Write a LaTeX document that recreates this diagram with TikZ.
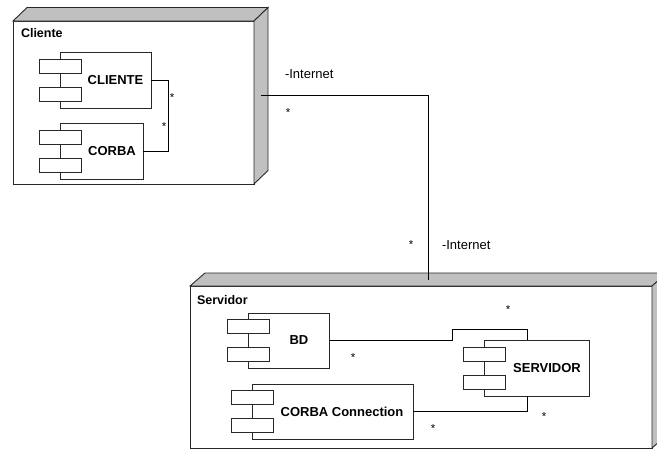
\documentclass[tikz,border=0pt]{standalone}
\usepackage{fontspec}
\setmainfont{Liberation Sans}
\usetikzlibrary{calc}
\definecolor{facegray}{RGB}{192,192,192}
\definecolor{edgegray}{RGB}{40,40,40}

\begin{document}
\begin{tikzpicture}[x=1pt,y=-1pt,
  every node/.style={inner sep=0pt, outer sep=0pt},
  frontface/.style={draw=edgegray, fill=white, line width=0.9pt},
  depthface/.style={draw=edgegray, fill=facegray, line width=0.9pt, line join=miter},
  compbody/.style={draw=edgegray, fill=white, line width=0.8pt},
  comptab/.style={draw=edgegray, fill=white, line width=0.8pt,
    minimum width=42pt, minimum height=14pt},
  compname/.style={font=\fontsize{13}{15}\selectfont\bfseries},
  nodename/.style={font=\fontsize{12.5}{15}\selectfont\bfseries, anchor=west},
  linkname/.style={font=\fontsize{13}{15}\selectfont, anchor=west},
  mult/.style={font=\fontsize{11.5}{12}\selectfont},
  wire/.style={draw=black, line width=0.9pt}]

\useasboundingbox (0,0) rectangle (657,450);
\clip (0,0) rectangle (657,450);

% ---------- deployment nodes (front faces) ----------
\node[frontface, minimum width=241pt, minimum height=163pt] (cliente) at (133.5,102.5) {};
\node[frontface, minimum width=462pt, minimum height=162pt] (servidor) at (421,367) {};

% 3D depth faces
\draw[depthface] (cliente.north west) -- ++(14,-13.5) -- ++(241,0) -- (cliente.north east) -- cycle;
\draw[depthface] (cliente.north east) -- ++(14,-13.5) -- ++(0,163) -- (cliente.south east) -- cycle;
\draw[depthface] (servidor.north west) -- ++(15,-13) -- ++(462,0) -- (servidor.north east) -- cycle;
\draw[depthface] (servidor.north east) -- ++(15,-13) -- ++(0,162) -- (servidor.south east) -- cycle;

\coordinate (cliside) at ($(cliente.east)+(7,-6.75)$);
\coordinate (srvtop) at ($(servidor.north)+(7.5,-6.5)$);

\node[nodename] (clientelbl) at ($(cliente.north west)+(8,12)$) {Cliente};
\node[nodename] (servidorlbl) at ($(servidor.north west)+(7,14)$) {Servidor};

% ---------- components ----------
\node[compbody, minimum width=91pt, minimum height=56pt] (cli) at (105.5,80) {};
\node[compbody, minimum width=83pt, minimum height=56pt] (cor) at (101.5,151) {};
\node[compbody, minimum width=81pt, minimum height=55pt] (bd) at (288.5,340.5) {};
\node[compbody, minimum width=161pt, minimum height=55pt] (cc) at (332.5,411.5) {};
\node[compbody, minimum width=105pt, minimum height=56pt] (srv) at (536.5,368) {};

\foreach \c in {cli,cor,bd,cc,srv}{
  \node[comptab] (\c-tab1) at ($(\c.north west)!0.25!(\c.south west)$) {};
  \node[comptab] (\c-tab2) at ($(\c.north west)!0.75!(\c.south west)$) {};
}

\node[compname] (clitxt) at ($(cli.center)+(10,0)$) {CLIENTE};
\node[compname] (cortxt) at ($(cor.center)+(10.5,0)$) {CORBA};
\node[compname] (bdtxt) at ($(bd.center)+(10.5,0)$) {BD};
\node[compname] (cctxt) at ($(cc.center)+(9.5,0)$) {CORBA Connection};
\node[compname] (srvtxt) at ($(srv.center)+(10.5,0)$) {SERVIDOR};

% ---------- connectors ----------
\draw[wire] (cli.east) -- ++(17,0) |- (cor.east);
\draw[wire] (cliside) -| (srvtop);
\draw[wire] (bd.east) -- ++(123,0) -- ++(0,-11) -| ([xshift=-9.5pt]srv.north);
\draw[wire] (cc.east) -| ([xshift=-9.5pt]srv.south);

% ---------- link names and multiplicities ----------
\node[linkname] (net1) at (285,74) {-Internet};
\node[linkname] (net2) at (442,245.5) {-Internet};

\node[mult] (m1) at (172,98) {*};
\node[mult] (m2) at (164,127) {*};
\node[mult] (m3) at (288,113) {*};
\node[mult] (m4) at (411,245) {*};
\node[mult] (m5) at (508,310) {*};
\node[mult] (m6) at (353,358) {*};
\node[mult] (m7) at (544,417) {*};
\node[mult] (m8) at (433,429) {*};
\end{tikzpicture}
\end{document}
